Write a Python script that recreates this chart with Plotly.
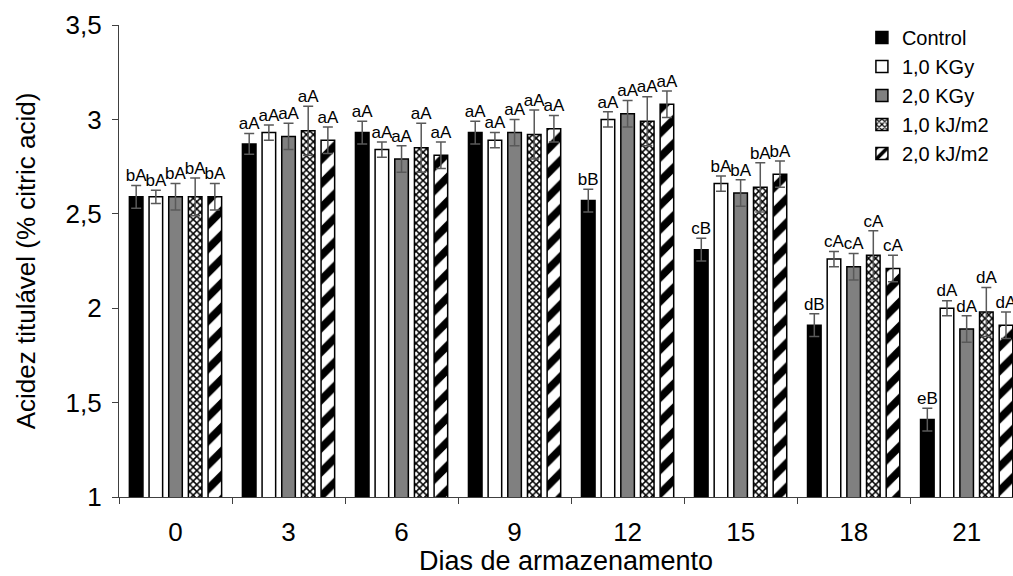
import plotly.graph_objects as go

days = ["0", "3", "6", "9", "12", "15", "18", "21"]
series_names = ["Control", "1,0 KGy", "2,0 KGy", "1,0 kJ/m2", "2,0 kJ/m2"]

control = [2.59, 2.87, 2.93, 2.93, 2.57, 2.31, 1.91, 1.41]
kgy1 = [2.59, 2.93, 2.84, 2.89, 3.00, 2.66, 2.26, 2.00]
kgy2 = [2.59, 2.91, 2.79, 2.93, 3.03, 2.61, 2.22, 1.89]
kj1 = [2.59, 2.94, 2.85, 2.92, 2.99, 2.64, 2.28, 1.98]
kj2 = [2.59, 2.89, 2.81, 2.95, 3.08, 2.71, 2.21, 1.91]

err_control = [0.06, 0.055, 0.06, 0.06, 0.06, 0.06, 0.06, 0.06]
err_kgy1 = [0.035, 0.04, 0.04, 0.04, 0.04, 0.04, 0.04, 0.04]
err_kgy2 = [0.07, 0.07, 0.07, 0.07, 0.07, 0.07, 0.07, 0.07]
err_kj1 = [0.10, 0.13, 0.13, 0.13, 0.13, 0.13, 0.13, 0.13]
err_kj2 = [0.07, 0.07, 0.07, 0.07, 0.07, 0.07, 0.07, 0.07]

lab_control = ["bA", "aA", "aA", "aA", "bB", "cB", "dB", "eB"]
lab_kgy1 = ["bA", "aA", "aA", "aA", "aA", "bA", "cA", "dA"]
lab_kgy2 = ["bA", "aA", "aA", "aA", "aA", "bA", "cA", "dA"]
lab_kj1 = ["bA", "aA", "aA", "aA", "aA", "bA", "cA", "dA"]
lab_kj2 = ["bA", "aA", "aA", "aA", "aA", "bA", "cA", "dA"]

values = [control, kgy1, kgy2, kj1, kj2]
errors = [err_control, err_kgy1, err_kgy2, err_kj1, err_kj2]
labels = [lab_control, lab_kgy1, lab_kgy2, lab_kj1, lab_kj2]

FONT = "Arial, Liberation Sans, sans-serif"

styles = [
    dict(color="#000000"),
    dict(color="#ffffff"),
    dict(color="#808080"),
    dict(color="#ffffff", pattern=dict(shape="x", size=5, solidity=0.5,
                                        fgcolor="#000000", bgcolor="#ffffff",
                                        fgopacity=1, fillmode="replace")),
    dict(color="#ffffff", pattern=dict(shape="/", size=17, solidity=0.45,
                                        fgcolor="#000000", bgcolor="#ffffff",
                                        fgopacity=1, fillmode="replace")),
]

fig = go.Figure()
for i, name in enumerate(series_names):
    fig.add_trace(go.Bar(
        x=days, y=values[i], name=name,
        offsetgroup=str(i),
        marker=dict(line=dict(color="#000000", width=1.5), **styles[i]),
        error_y=dict(type="data", array=errors[i], visible=True,
                     color="#595959", thickness=1.5, width=5),
    ))

for i, name in enumerate(series_names):
    tops = [v + e for v, e in zip(values[i], errors[i])]
    fig.add_trace(go.Scatter(
        x=days, y=tops, mode="text", text=labels[i],
        textposition="top center", offsetgroup=str(i),
        textfont=dict(family=FONT, size=17, color="#000000"),
        showlegend=False, hoverinfo="skip", cliponaxis=False,
    ))

fig.update_layout(
    width=1013, height=576,
    margin=dict(l=119, r=0, t=25, b=79, autoexpand=False),
    paper_bgcolor="white", plot_bgcolor="white",
    barmode="group", bargap=0.13, bargroupgap=0.31,
    scattermode="group", scattergap=0.13,
    separators=", ",
    font=dict(family=FONT, size=26, color="#000000"),
    showlegend=True,
    legend=dict(x=0.831, y=1.015, xanchor="left", yanchor="top",
                bgcolor="rgba(0,0,0,0)",
                font=dict(family=FONT, size=20), tracegroupgap=0,
                itemwidth=30),
)

fig.update_xaxes(
    type="category", range=[-0.5, 7.41], automargin=False,
    showline=True, linecolor="#404040", linewidth=1.2,
    ticks="outside", tickson="boundaries", ticklen=6, tickcolor="#404040",
    showgrid=False, zeroline=False, ticklabelstandoff=12,
    tickfont=dict(family=FONT, size=26),
    title=dict(text="Dias de armazenamento", standoff=21,
               font=dict(family=FONT, size=27)),
)
fig.update_yaxes(
    range=[1, 3.5], tickvals=[1, 1.5, 2, 2.5, 3, 3.5], automargin=False,
    showline=True, linecolor="#404040", linewidth=1.2,
    ticks="outside", ticklen=6, tickcolor="#404040",
    showgrid=False, zeroline=False, ticklabelstandoff=5,
    tickfont=dict(family=FONT, size=26),
    title=dict(text="Acidez titulável (% citric acid)", standoff=22,
               font=dict(family=FONT, size=26)),
)

fig.write_html("out.html", config={"displayModeBar": False},
               post_script="document.body.style.margin='0px';")
